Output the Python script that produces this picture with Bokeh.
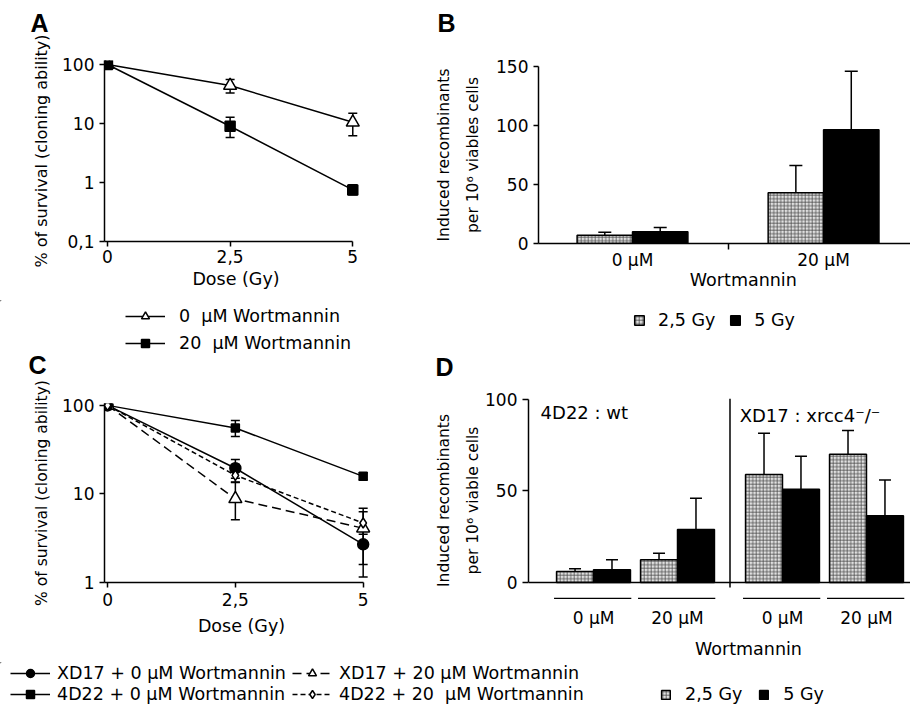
from bokeh.plotting import figure
from bokeh.models import (ColumnDataSource, Whisker, TeeHead, FixedTicker, Legend,
                          LegendItem, Span, Range1d, LinearAxis)
from bokeh.layouts import column, row
from bokeh.embed import file_html
from bokeh.resources import INLINE
from bokeh.core.properties import value

FONT = "DejaVu Sans"
BOLD_FONT = "Liberation Sans"
W = 910

# ---------------- data ----------------
dose = [0, 2.5, 5]
dose_labels = ["0", "2,5", "5"]

# Panel A : survival, log scale
a_wort0 = [100, 44, 10.5]
a_wort0_lo = [100, 33, 6.2]
a_wort0_hi = [100, 56, 15]
a_wort20 = [100, 9.0, 0.75]
a_wort20_lo = [100, 5.8, 0.62]
a_wort20_hi = [100, 12.8, 0.92]
a_yticks = [0.1, 1, 10, 100]
a_ytick_labels = ["0,1", "1", "10", "100"]
a_labels = ["0 \u00a0µM Wortmannin", "20 \u00a0µM Wortmannin"]

# Panel B : induced recombinants
b_doses = ["0 µM", "20 µM"]
b_gy25 = [7, 43]
b_gy25_err = [9.5, 66]
b_gy5 = [10, 96.5]
b_gy5_err = [13.5, 146]
b_yticks = [0, 50, 100, 150]
gy_labels = ["2,5 Gy", "5 Gy"]

# Panel C : survival, log scale
c_xd17_0 = [100, 19.5, 2.7]
c_xd17_0_lo = [100, 15, 1.15]
c_xd17_0_hi = [100, 24.5, 4.0]
c_4d22_0 = [100, 55.5, 15.8]
c_4d22_0_lo = [100, 44.6, 14.4]
c_4d22_0_hi = [100, 67.7, 17.4]
c_xd17_20 = [100, 8.8, 4.1]
c_xd17_20_lo = [100, 5.1, 1.6]
c_xd17_20_hi = [100, 13.6, 6.9]
c_4d22_20 = [100, 16.2, 4.7]
c_4d22_20_lo = [100, 13.5, 3.5]
c_4d22_20_hi = [100, 21.5, 6.3]
c_yticks = [1, 10, 100]
c_ytick_labels = ["1", "10", "100"]

# Panel D : induced recombinants per cell line
d_cells = ["4D22", "4D22", "XD17", "XD17"]
d_doses = ["0 µM", "20 µM", "0 µM", "20 µM"]
d_gy25 = [6, 12.5, 59, 70]
d_gy25_err = [7.5, 16, 81.5, 83]
d_gy5 = [7, 29, 51, 36.5]
d_gy5_err = [12.5, 46, 69, 56]
d_yticks = [0, 50, 100]

# ---------------- styles ----------------
LINE = dict(line_color="black", line_width=1.5)
GY25 = dict(fill_color="#e0e0e0", hatch_pattern="cross", hatch_scale=3.5, hatch_color="#505050",
            hatch_weight=0.8, line_color="black", line_width=1.5)
GY5 = dict(fill_color="black", line_color="black", line_width=1.5)
A_MARK = [dict(marker="triangle", size=13, fill_color="white"),
          dict(marker="square", size=10, fill_color="black")]

common = dict(output_backend="svg", toolbar_location=None, outline_line_color=None,
              frame_align=False)


def style_axes(p):
    for ax in p.axis:
        ax.axis_line_width = 1.5
        ax.axis_line_color = "black"
        ax.major_tick_line_width = 1.5
        ax.major_tick_line_color = "black"
        ax.major_tick_in = 0
        ax.major_tick_out = 5
        ax.minor_tick_line_color = None
        ax.major_label_text_font = FONT
        ax.major_label_text_font_size = "17px"
        ax.major_label_text_color = "black"
        ax.axis_label_text_font = FONT
        ax.axis_label_text_font_size = "17.5px"
        ax.axis_label_text_font_style = "normal"
        ax.axis_label_text_color = "black"


def add_err(p, xs, lo, hi, head=9):
    src = ColumnDataSource(dict(x=xs, lo=lo, hi=hi))
    p.add_layout(Whisker(source=src, base="x", lower="lo", upper="hi",
                         line_color="black", line_width=1.5,
                         upper_head=TeeHead(size=head, line_color="black", line_width=1.5),
                         lower_head=TeeHead(size=head, line_color="black", line_width=1.5)))


def add_up_err(p, xs, lo, hi, head=13):
    src = ColumnDataSource(dict(x=xs, lo=lo, hi=hi))
    p.add_layout(Whisker(source=src, base="x", lower="lo", upper="hi",
                         line_color="black", line_width=1.5,
                         upper_head=TeeHead(size=head, line_color="black", line_width=1.5),
                         lower_head=None))


def make_legend(items, loc, **kw):
    base = dict(border_line_color=None, background_fill_alpha=0, padding=0, margin=0,
                label_text_font=FONT, label_text_font_size="17.5px", label_text_color="black",
                orientation="horizontal", location=loc, spacing=0)
    base.update(kw)
    return Legend(items=items, **base)


def strip(height):
    # a plain strip (pixel coordinates, y downward) for panel letters and legends
    s = figure(width=W, height=height, x_range=Range1d(0, W), y_range=Range1d(height, 0),
               min_border=0, x_axis_location=None, y_axis_location=None, **common)
    s.grid.visible = False
    return s


def letters(s, xs, ys, txt):
    s.text(x=xs, y=ys, text=txt, text_baseline="top", text_align="left",
           text_font=value(BOLD_FONT), text_font_size="25px", text_font_style="bold",
           text_color="black")


def legend_line_item(s, label, mk, dash="solid"):
    # one off-screen point so the legend can draw its sample
    rl = s.line(x=[-50, -40], y=[-50, -50], line_dash=dash, **LINE)
    rs = s.scatter(x=[-50], y=[-50], **mk, **LINE)
    return LegendItem(label=label, renderers=[rl, rs])


def legend_bar_items(s):
    r25 = s.vbar(x=[-50], top=[-50], bottom=[-60], width=1, **GY25)
    r5 = s.vbar(x=[-50], top=[-50], bottom=[-60], width=1, **GY5)
    return [LegendItem(label=gy_labels[0], renderers=[r25]),
            LegendItem(label=gy_labels[1], renderers=[r5])]


# ---------------- strip 1: letters A, B ----------------
s1 = strip(35)
letters(s1, [30, 437], [8, 8], ["A", "B"])

# ---------------- Panel A ----------------
pA = figure(x_range=Range1d(-0.06, 5.3), y_range=Range1d(0.1, 117), y_axis_type="log",
            width=400, height=265, min_border_left=104, min_border_right=33,
            min_border_top=25, min_border_bottom=59, **common)
pA.grid.visible = False
pA.line(dose, a_wort0, **LINE)
pA.line(dose, a_wort20, **LINE)
add_err(pA, dose[1:], a_wort0_lo[1:], a_wort0_hi[1:])
add_err(pA, dose[1:], a_wort20_lo[1:], a_wort20_hi[1:])
pA.scatter(dose, a_wort0, **A_MARK[0], **LINE)
pA.scatter(dose, a_wort20, **A_MARK[1], **LINE)
style_axes(pA)
pA.xaxis.ticker = FixedTicker(ticks=dose)
pA.xaxis.bounds = (-0.06, 5)
pA.xaxis.major_label_overrides = dict(zip(dose, dose_labels))
pA.xaxis.major_label_standoff = 3
pA.xaxis.axis_label = "Dose (Gy)"
pA.xaxis.axis_label_standoff = 3
pA.yaxis.ticker = FixedTicker(ticks=a_yticks)
pA.yaxis.major_label_overrides = dict(zip(a_yticks, a_ytick_labels))
pA.yaxis.axis_label = "% of survival (cloning ability)"
pA.yaxis.axis_label_text_font_size = "16px"
pA.yaxis.axis_label_standoff = 8

# ---------------- Panel B ----------------
bw = 0.29
b_x = list(range(len(b_doses)))
b_x25 = [i - bw / 2 for i in b_x]
b_x5 = [i + bw / 2 for i in b_x]
pB = figure(x_range=Range1d(-0.492, 1.455), y_range=Range1d(0, 150),
            width=510, height=265, min_border_left=138, min_border_right=0,
            min_border_top=31, min_border_bottom=57, **common)
pB.grid.visible = False
add_up_err(pB, b_x25, b_gy25, b_gy25_err)
add_up_err(pB, b_x5, b_gy5, b_gy5_err)
pB.vbar(x=b_x25, top=b_gy25, width=bw, bottom=0, **GY25)
pB.vbar(x=b_x5, top=b_gy5, width=bw, bottom=0, **GY5)
style_axes(pB)
pB.xaxis.ticker = FixedTicker(ticks=b_x, minor_ticks=[0.5])
pB.xaxis.major_label_overrides = dict(zip(b_x, b_doses))
pB.xaxis.major_tick_line_color = None
pB.xaxis.minor_tick_line_color = "black"
pB.xaxis.minor_tick_line_width = 1.5
pB.xaxis.minor_tick_in = 0
pB.xaxis.minor_tick_out = 6
pB.xaxis.major_label_standoff = 0
pB.yaxis.ticker = FixedTicker(ticks=b_yticks)
pB.yaxis.axis_label = "Induced recombinants\nper 10⁶ viables cells"
pB.yaxis.axis_label_text_font_size = "15.5px"
pB.yaxis.axis_label_text_line_height = 1.6
pB.yaxis.axis_label_standoff = 11
b_wort_axis = LinearAxis(ticker=FixedTicker(ticks=[0.58]), major_label_overrides={0.58: "Wortmannin"},
                         axis_line_color=None, major_tick_line_color=None, major_tick_out=0,
                         major_label_standoff=-3, major_label_text_font=FONT,
                         major_label_text_font_size="17.5px", major_label_text_color="black")
pB.add_layout(b_wort_axis, "below")

# ---------------- strip 2: legends A, B and letters C, D ----------------
s2 = strip(80)
a_items = [legend_line_item(s2, a_labels[i], A_MARK[i]) for i in range(2)]
s2.add_layout(make_legend([a_items[0]], (125, 54), glyph_width=40, glyph_height=20, label_standoff=14))
s2.add_layout(make_legend([a_items[1]], (125, 27), glyph_width=40, glyph_height=20, label_standoff=14))
s2.add_layout(make_legend(legend_bar_items(s2), (633, 50), glyph_width=12, glyph_height=12,
                          label_standoff=13, spacing=14))
letters(s2, [28, 435], [50, 52], ["C", "D"])

# ---------------- Panel C ----------------
pC = figure(x_range=Range1d(-0.06, 5.3), y_range=Range1d(1, 105), y_axis_type="log",
            width=400, height=282, min_border_left=104, min_border_right=22,
            min_border_top=23, min_border_bottom=80, **common)
pC.grid.visible = False
c_series = [
    ("XD17 + 0 µM Wortmannin", c_xd17_0, c_xd17_0_lo, c_xd17_0_hi,
     dict(marker="circle", size=11, fill_color="black"), "solid"),
    ("XD17 + 20 µM Wortmannin", c_xd17_20, c_xd17_20_lo, c_xd17_20_hi,
     dict(marker="triangle", size=13, fill_color="white"), "9 5"),
    ("4D22 + 0 µM Wortmannin", c_4d22_0, c_4d22_0_lo, c_4d22_0_hi,
     dict(marker="square", size=8, fill_color="black"), "solid"),
    ("4D22 + 20 \u00a0µM Wortmannin", c_4d22_20, c_4d22_20_lo, c_4d22_20_hi,
     dict(marker="diamond", size=10, fill_color="white"), "5 3"),
]
for label, ys, lo, hi, mk, dash in c_series:
    pC.line(dose, ys, line_dash=dash, **LINE)
for label, ys, lo, hi, mk, dash in c_series:
    add_err(pC, dose[1:], lo[1:], hi[1:])
for label, ys, lo, hi, mk, dash in c_series:
    pC.scatter(dose, ys, **mk, **LINE)
style_axes(pC)
pC.xaxis.ticker = FixedTicker(ticks=dose)
pC.xaxis.bounds = (-0.06, 5)
pC.xaxis.major_label_overrides = dict(zip(dose, dose_labels))
pC.xaxis.major_label_standoff = 5
pC.xaxis.axis_label = "Dose (Gy)"
pC.xaxis.axis_label_standoff = 7
pC.yaxis.ticker = FixedTicker(ticks=c_yticks)
pC.yaxis.major_label_overrides = dict(zip(c_yticks, c_ytick_labels))
pC.yaxis.axis_label = "% of survival (cloning ability)"
pC.yaxis.axis_label_text_font_size = "15.5px"
pC.yaxis.axis_label_standoff = 8

# ---------------- Panel D ----------------
d_x = [0.0, 1.0, 2.25, 3.25]   # group positions (gap between cell lines)
d_x25 = [x - 0.22 for x in d_x]
d_x5 = [x + 0.22 for x in d_x]
pD = figure(x_range=Range1d(-0.774, 3.774), y_range=Range1d(-10.9, 100.5),
            width=510, height=282, min_border_left=128, min_border_right=0,
            min_border_top=18, min_border_bottom=60, **common)
pD.grid.visible = False
add_up_err(pD, d_x25, d_gy25, d_gy25_err, head=12)
add_up_err(pD, d_x5, d_gy5, d_gy5_err, head=12)
pD.vbar(x=d_x25, top=d_gy25, width=0.44, bottom=0, **GY25)
pD.vbar(x=d_x5, top=d_gy5, width=0.44, bottom=0, **GY5)
pD.add_layout(Span(location=0, dimension="width", line_color="black", line_width=1.5))
pD.segment(x0=[1.625], y0=[-2.7], x1=[1.625], y1=[100.5], **LINE)
pD.segment(x0=[x - 0.47 for x in d_x], y0=[-8.7] * 4, x1=[x + 0.45 for x in d_x], y1=[-8.7] * 4,
           line_color="black", line_width=1.2)
pD.text(x=[-0.63, 1.74], y=[93, 91], text=["4D22 : wt", "XD17 : xrcc4⁻/⁻"],
        text_baseline="middle", text_align="left", text_font=value(FONT),
        text_font_size="18px", text_color="black")
style_axes(pD)
pD.yaxis.ticker = FixedTicker(ticks=d_yticks)
pD.yaxis.bounds = (0, 100)
pD.yaxis.major_tick_out = 6
pD.yaxis.axis_label = "Induced recombinants\nper 10⁶ viable cells"
pD.yaxis.axis_label_text_font_size = "15.5px"
pD.yaxis.axis_label_text_line_height = 1.6
pD.yaxis.axis_label_standoff = 0
pD.xaxis.ticker = FixedTicker(ticks=d_x)
pD.xaxis.major_label_overrides = dict(zip(d_x, d_doses))
pD.xaxis.axis_line_color = None
pD.xaxis.major_tick_line_color = None
pD.xaxis.major_tick_out = 0
pD.xaxis.major_label_standoff = 5
d_wort_axis = LinearAxis(ticker=FixedTicker(ticks=[1.845]), major_label_overrides={1.845: "Wortmannin"},
                         axis_line_color=None, major_tick_line_color=None, major_tick_out=0,
                         major_label_standoff=8, major_label_text_font=FONT,
                         major_label_text_font_size="17.5px", major_label_text_color="black")
pD.add_layout(d_wort_axis, "below")

# ---------------- strip 3: legends C and D ----------------
s3 = strip(46)
c_items = [legend_line_item(s3, lab, mk, dash) for lab, ys, lo, hi, mk, dash in c_series]
s3.add_layout(make_legend(c_items[0:2], (10, 25), glyph_width=40, glyph_height=20,
                          label_standoff=7, label_width=235))
s3.add_layout(make_legend(c_items[2:4], (10, 4), glyph_width=40, glyph_height=20,
                          label_standoff=7, label_width=235))
s3.add_layout(make_legend(legend_bar_items(s3), (660, 4), glyph_width=11, glyph_height=11,
                          label_standoff=14, spacing=16))

layout = column(s1, row(pA, pB), s2, row(pC, pD), s3)
open("out.html", "w").write(file_html(layout, INLINE))
